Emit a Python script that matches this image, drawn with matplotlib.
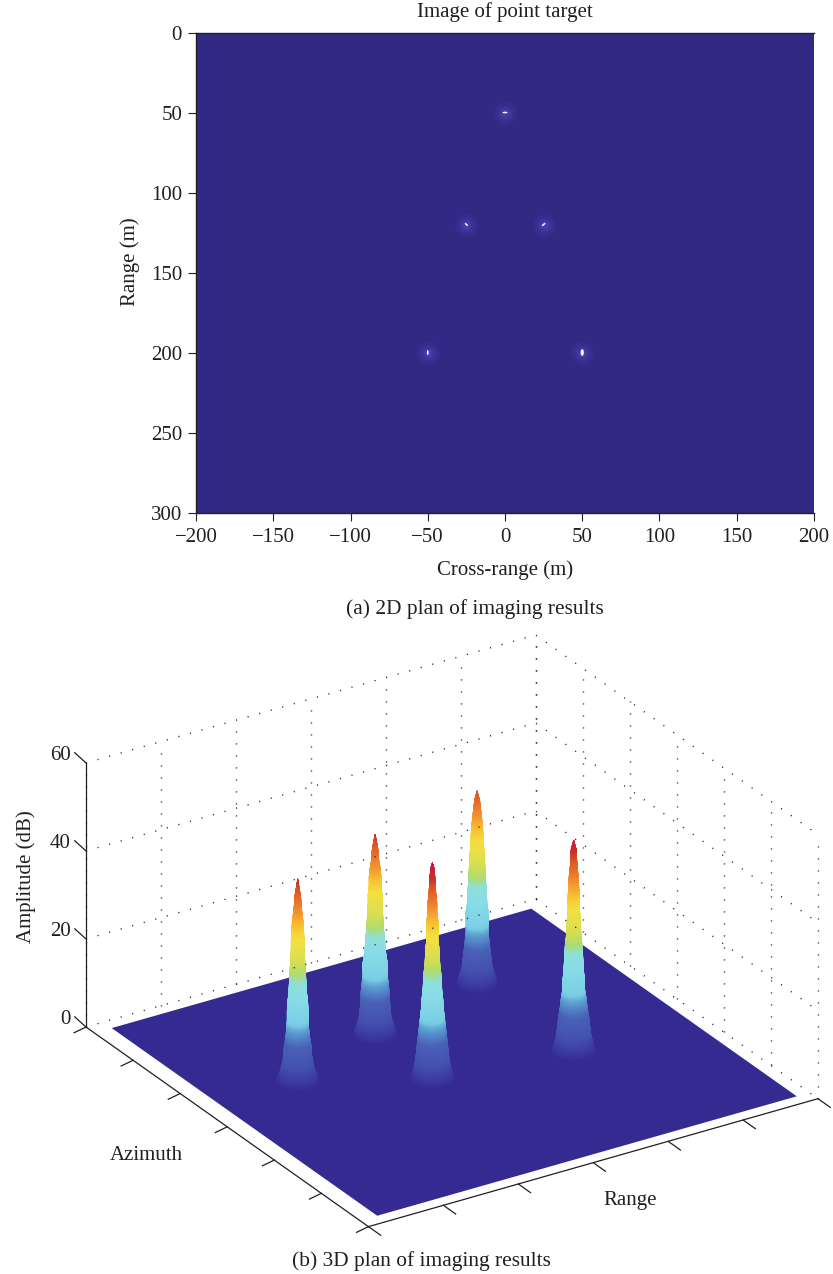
import numpy as np
import matplotlib
matplotlib.use('Agg')
import matplotlib.pyplot as plt
from matplotlib.colors import LinearSegmentedColormap
from matplotlib.patches import Ellipse
from mpl_toolkits.mplot3d import proj3d

plt.rcParams['font.family'] = ['Liberation Serif', 'DejaVu Serif']

W, H = 833, 1274
NAVY_2D = '#322984'
NAVY_3D = '#352a92'
INK = '#231f20'
FS = 15

# (a) point targets
target_cross = [0, -25, 25, -50, 50]
target_range = [50, 120, 120, 200, 200]
glint_w = [3.2, 2.6, 3.0, 1.1, 2.0]
glint_h = [1.0, 1.0, 1.0, 3.2, 4.2]
glint_angle = [0, 40, -40, 0, 0]
cross_ticks = [-200, -150, -100, -50, 0, 50, 100, 150, 200]
range_ticks = [0, 50, 100, 150, 200, 250, 300]

# (b) spikes: position on the floor, top and half width (px) every 2 dB
spike_x = [4.29, 2.64, 4.31, 1.28, 2.60]
spike_y = [4.52, 4.06, 2.50, 3.54, 2.78]
spike_top = [44, 45.6, 48.4, 46, 49]
spike_radius = [
    [21, 18, 15, 14, 13, 12, 11, 11, 11.5, 10, 9.5, 9, 8.5, 8, 7.5, 7, 6.5, 6, 5.5, 4.5, 3.5, 2.5, 0],
    [22, 19, 16, 15, 14.5, 14, 13, 12, 12.5, 11, 10, 9.5, 8.5, 8, 7.5, 7, 7, 6, 6, 5, 3.5, 3, 1.5, 0],
    [22, 19, 17, 16, 15, 13.5, 12.5, 11, 11, 10, 9.5, 9, 8.5, 7.5, 7, 6.5, 6, 6, 5.5, 5, 4.5, 3.5, 3, 2.5, 0],
    [22, 18, 15.5, 14, 13.5, 12, 11, 10.5, 10.5, 10, 9, 8.5, 8, 7.5, 7, 6.5, 6.5, 6, 5.5, 4.5, 3.5, 3, 1.5, 0],
    [22, 19, 17, 16, 15, 14, 13, 12, 11, 10.5, 9.5, 9, 8.5, 7.5, 7, 6.5, 5.5, 6, 5.5, 4.5, 4.5, 3.5, 3, 2.5, 1.5, 0],
]
plate_x = [0.23, 5.83]
plate_y = [0.18, 5.82]
azimuth_ticks = [0, 1, 2, 3, 4, 5, 6]
distance_ticks = [0, 1, 2, 3, 4, 5, 6]
amp_ticks = [0, 20, 40, 60]

# colour against amplitude
color_z = [0, 1.5, 4, 9, 12, 14, 20, 23, 25, 28, 33, 36, 39, 43, 46, 49]
color_hex = ['#352a92', '#3c3aa0', '#4450ae', '#4a62b8', '#5a9cd0', '#7cd0e6', '#8adde8', '#8ee0d8',
             '#b0dc70', '#d8e050', '#f4e040', '#f8c030', '#f29030', '#e06028', '#c83028', '#d01050']

fig = plt.figure(figsize=(W / 100, H / 100), dpi=100, facecolor='white')


def text_px(x, y, s, **kw):
    kw.setdefault('color', INK)
    kw.setdefault('ha', 'center')
    kw.setdefault('va', 'center')
    fig.text(x / W, 1 - y / H, s, **kw)


# ---- 2D plan ----
ax = fig.add_axes([196 / W, 1 - 512.5 / H, 618 / W, 480 / H])
ax.set_facecolor(NAVY_2D)
ax.set_xlim(-200, 200)
ax.set_ylim(300, 0)
for size, alpha in zip([260, 110, 35], [0.12, 0.16, 0.28]):
    ax.scatter(target_cross, target_range, s=size, color='#5a58d8', alpha=alpha, linewidths=0)
for x, y, w, h, a in zip(target_cross, target_range, glint_w, glint_h, glint_angle):
    ax.add_patch(Ellipse((x, y), w, h, angle=a, color='white', lw=0))
ax.set_xticks(cross_ticks)
ax.set_yticks(range_ticks)
ax.tick_params(direction='out', length=5.5, width=0.8, color=INK, labelcolor=INK, labelsize=FS, pad=4.5)
ax.tick_params(axis='x', pad=5.5)
ax.spines['right'].set_visible(False)
for side in ['left', 'top', 'bottom']:
    ax.spines[side].set_color(INK)
    ax.spines[side].set_linewidth(1.0)

text_px(505, 12, 'Image of point target', fontsize=FS)
text_px(505, 570, 'Cross-range (m)', fontsize=FS)
text_px(130, 262, 'Range (m)', fontsize=FS, rotation=90)
text_px(474.5, 609.5, '(a) 2D plan of imaging results', fontsize=15.4)

# ---- 3D plan ----
ax3 = fig.add_axes([0, 0, W / H, 1], projection='3d', computed_zorder=False, proj_type='ortho')
ax3.set_axis_off()
ax3.patch.set_visible(False)
ax3.set_xlim(0, 6, view_margin=0)
ax3.set_ylim(0, 6, view_margin=0)
ax3.set_zlim(0, 60, view_margin=0)
ax3.set_box_aspect((532.3, 527, 295.4))
ax3.view_init(elev=26.65, azim=-122.4)

# fit the box onto its place in the picture
xs, ys, _ = proj3d.proj_transform(np.array([0.0, 6.0]), np.array([6.0, 0.0]), np.array([0.0, 0.0]), ax3.get_proj())
frac = ax3.transAxes.inverted().transform(ax3.transData.transform(np.c_[xs, ys]))
side = (818 - 86) / (frac[1, 0] - frac[0, 0])
left = 86 - side * frac[0, 0]
bottom = (H - 1027) - side * frac[0, 1]
ax3.set_position([left / W, bottom / H, side / W, side / H])

# axis is off, the box is drawn by hand below
ax3.set_xticks([])
ax3.set_yticks([])
ax3.set_zticks([])

xx, yy = np.meshgrid(plate_x, plate_y)
ax3.plot_surface(xx, yy, np.zeros_like(xx), color=NAVY_3D, shade=False, linewidth=0, zorder=1)

z_cmap = LinearSegmentedColormap.from_list('spike', [(z / color_z[-1], c) for z, c in zip(color_z, color_hex)])
theta = np.linspace(0, 2 * np.pi, 37)
PX_PER_UNIT = 88.0
SHADES = 5  # colour steps painted across each 2 dB facet
for i, (cx, cy, top, radii) in enumerate(zip(spike_x, spike_y, spike_top, spike_radius)):
    r_read = np.array(radii) / PX_PER_UNIT
    z_read = np.minimum(2.0 * np.arange(len(r_read)), top)
    rows = np.arange((len(r_read) - 1) * SHADES + 1) / SHADES
    r = np.interp(rows, np.arange(len(r_read)), r_read)
    z = np.interp(rows, np.arange(len(r_read)), z_read)
    sx = cx + np.outer(r, np.cos(theta))
    sy = cy + np.outer(r, np.sin(theta))
    sz = np.outer(z, np.ones_like(theta))
    mid = 0.5 * (z[:-1] + z[1:])
    colors = z_cmap(mid / color_z[-1])
    fc = np.repeat(colors[:, None, :], len(theta) - 1, axis=1)
    ax3.plot_surface(sx, sy, sz, facecolors=fc, shade=False, rstride=1, cstride=1, linewidth=0.4, zorder=2 + i)

# the walls lie clear of the plate, their dots show over the spikes
dots = dict(color='#222222', lw=1.0, ls=(0, (0.8, 7.84)), zorder=20)
for z in amp_ticks:
    ax3.plot([0, 6, 6], [6, 6, 0], [z, z, z], **dots)
for x in distance_ticks:
    ax3.plot([x, x], [6, 6], [0, 60], **dots)
for y in azimuth_ticks:
    ax3.plot([6, 6], [y, y], [0, 60], **dots)

solid = dict(color=INK, lw=0.9, zorder=30)
ax3.plot([0, 0], [6, 0], [0, 0], **solid)
ax3.plot([0, 6], [0, 0], [0, 0], **solid)
ax3.plot([0, 0], [6, 6], [0, 60], **solid)
for y in azimuth_ticks:
    ax3.plot([0, -0.19], [y, y - 0.05], [0, 0], **solid)
for x in distance_ticks:
    ax3.plot([x, x], [0, -0.26], [0, 0], **solid)
for z in amp_ticks:
    ax3.plot([0, 0], [6, 6.24], [z, z + 0.5], **solid)
    lx, ly, _ = proj3d.proj_transform(0.0, 6.33, z - 0.75, ax3.get_proj())
    ax3.text2D(lx, ly, str(z), transform=ax3.transData, ha='right', va='center', fontsize=FS, color=INK)

text_px(26, 877, 'Amplitude (dB)', fontsize=FS, rotation=90)
text_px(146, 1155, 'Azimuth', fontsize=FS)
text_px(630, 1200, 'Range', fontsize=FS)
text_px(421, 1261, '(b) 3D plan of imaging results', fontsize=15.4)

fig.savefig('out.png', dpi=100)
